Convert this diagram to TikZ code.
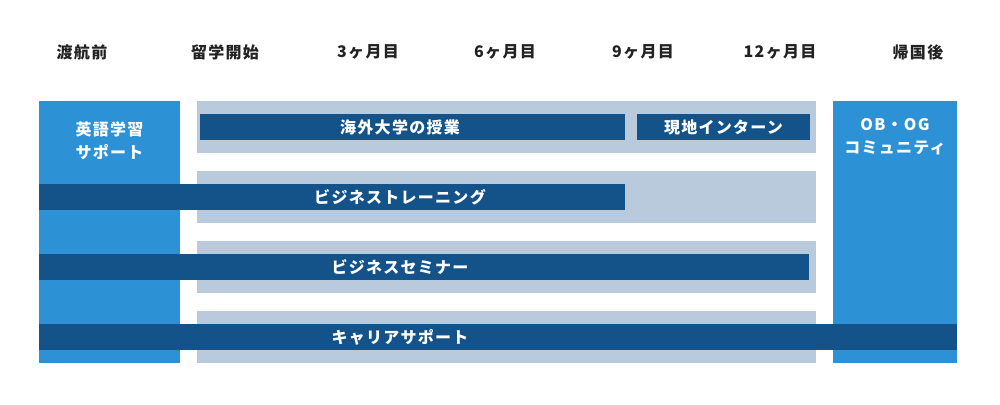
\documentclass[tikz,border=0pt]{standalone}
\usepackage{fontspec}
\setmainfont{Noto Sans CJK JP}[LetterSpace=8]
\definecolor{panelgrey}{HTML}{B8CADB}
\definecolor{sideblue}{HTML}{2D91D6}
\definecolor{barblue}{HTML}{14538A}
\definecolor{headc}{HTML}{222222}
\begin{document}
\begin{tikzpicture}[x=1pt,y=-1pt,
  box/.style={anchor=north west, inner sep=0pt, outer sep=0pt, draw=none},
  panel/.style={box, fill=panelgrey},
  side/.style={box, fill=sideblue},
  bar/.style={box, fill=barblue},
  head/.style={font=\fontsize{16}{19}\selectfont\bfseries, text=headc, inner sep=0pt},
  lbl/.style={font=\fontsize{16}{23}\selectfont\bfseries, text=white, inner sep=0pt, align=center}]
\useasboundingbox (0,0) rectangle (1000,404);
% panels
\node[panel, minimum width=619pt, minimum height=52pt] (p1) at (197,101) {};
\node[panel, minimum width=619pt, minimum height=52pt] (p2) at (197,171) {};
\node[panel, minimum width=619pt, minimum height=52pt] (p3) at (197,241) {};
\node[panel, minimum width=619pt, minimum height=52pt] (p4) at (197,311) {};
% side boxes
\node[side, minimum width=141pt, minimum height=262pt] (sl) at (39,101) {};
\node[side, minimum width=124pt, minimum height=262pt] (sr) at (833,101) {};
% bars
\node[bar, minimum width=425pt, minimum height=26pt] (b1) at (200,114) {};
\node[bar, minimum width=173pt, minimum height=26pt] (b2) at (637,114) {};
\node[bar, minimum width=586pt, minimum height=26pt] (b3) at (39,184) {};
\node[bar, minimum width=770pt, minimum height=26pt] (b4) at (39,254) {};
\node[bar, minimum width=918pt, minimum height=26pt] (b5) at (39,324) {};
% headers
\node[head] (h0) at (82,52) {渡航前};
\node[head] (h1) at (225,52) {留学開始};
\node[head] (h2) at (368,52) {3ヶ月目};
\node[head] (h3) at (505,52) {6ヶ月目};
\node[head] (h4) at (643,52) {9ヶ月目};
\node[head] (h5) at (780,52) {12ヶ月目};
\node[head] (h6) at (918,52) {帰国後};
% labels
\node[lbl] (t0) at (109.5,140.5) {英語学習\\サポート};
\node[lbl] (t1) at (895,137) {OB・OG\\コミュニティ};
\node[lbl] (t2) at (400,127) {海外大学の授業};
\node[lbl] (t3) at (723.5,127) {現地インターン};
\node[lbl] (t4) at (400,197) {ビジネストレーニング};
\node[lbl] (t5) at (400,267) {ビジネスセミナー};
\node[lbl] (t6) at (400,337) {キャリアサポート};
\end{tikzpicture}
\end{document}
